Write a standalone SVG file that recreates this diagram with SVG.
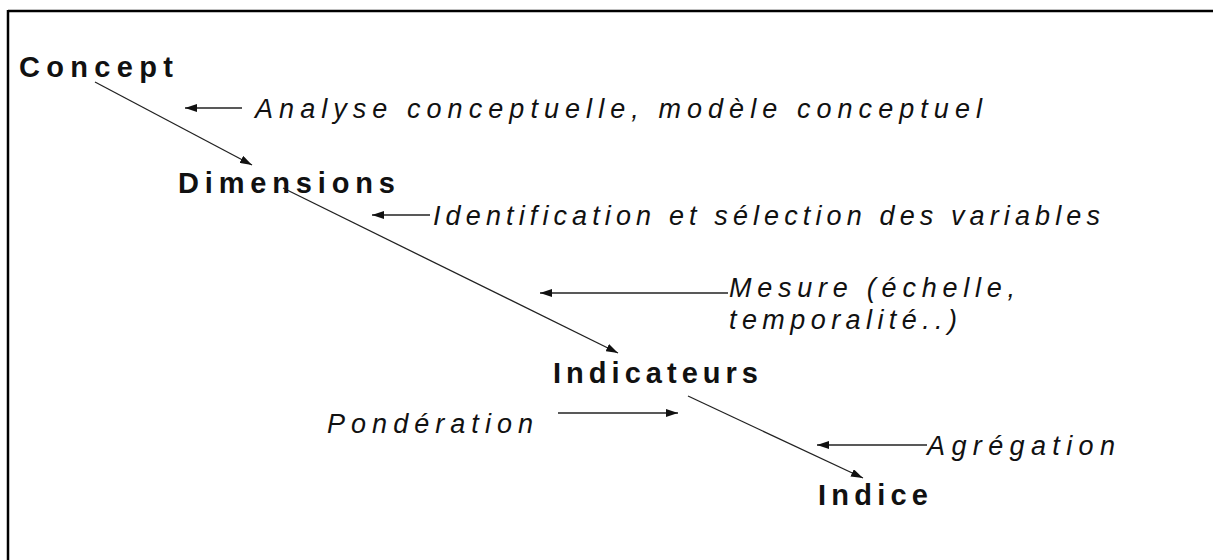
<svg xmlns="http://www.w3.org/2000/svg" width="1213" height="560" viewBox="0 0 1213 560">
<style>
.node{font-family:"Liberation Sans",Arial,sans-serif;font-weight:bold;font-size:29px;fill:#111}
.lbl{font-family:"Liberation Sans",Arial,sans-serif;font-style:italic;font-size:27px;fill:#111}
.c{stroke:#222;stroke-width:1.3;fill:none;marker-end:url(#ah)}
</style>
<defs>
<marker id="ah" viewBox="0 0 12 8" refX="12" refY="4" markerWidth="12" markerHeight="8" markerUnits="userSpaceOnUse" orient="auto">
<path d="M0,0 L12,4 L0,8 Z" fill="#111"/>
</marker>
</defs>
<rect width="1213" height="560" fill="#fff"/>
<g id="frame" stroke="#000" stroke-width="2.5">
<line x1="8" y1="11" x2="1213" y2="11"/>
<line x1="8" y1="10" x2="8" y2="560"/>
</g>
<g id="connectors">
<line class="c" x1="95" y1="82" x2="252" y2="165"/>
<line class="c" x1="283" y1="188" x2="618" y2="353"/>
<line class="c" x1="688" y1="396" x2="863" y2="478"/>
<line class="c" x1="242" y1="108" x2="185" y2="108"/>
<line class="c" x1="430" y1="215" x2="372" y2="215"/>
<line class="c" x1="728" y1="293" x2="540" y2="293"/>
<line class="c" x1="558" y1="413" x2="678" y2="413"/>
<line class="c" x1="927" y1="445" x2="817" y2="445"/>
</g>
<g id="concept"><text class="node" x="19" y="77" textLength="154" lengthAdjust="spacing">Concept</text></g>
<g id="dimensions"><text class="node" x="178" y="193" textLength="217" lengthAdjust="spacing">Dimensions</text></g>
<g id="indicateurs"><text class="node" x="553" y="383" textLength="205" lengthAdjust="spacing">Indicateurs</text></g>
<g id="indice"><text class="node" x="818" y="505" textLength="110" lengthAdjust="spacing">Indice</text></g>
<g id="analyse"><text class="lbl" x="255" y="118" textLength="727" lengthAdjust="spacing">Analyse conceptuelle, modèle conceptuel</text></g>
<g id="identification"><text class="lbl" x="433" y="225" textLength="667" lengthAdjust="spacing">Identification et sélection des variables</text></g>
<g id="mesure"><text class="lbl" x="729" y="297" textLength="286" lengthAdjust="spacing">Mesure (échelle,</text><text class="lbl" x="729" y="329" textLength="228" lengthAdjust="spacing">temporalité..)</text></g>
<g id="ponderation"><text class="lbl" x="327" y="433" textLength="206" lengthAdjust="spacing">Pondération</text></g>
<g id="agregation"><text class="lbl" x="927" y="455" textLength="188" lengthAdjust="spacing">Agrégation</text></g>
</svg>
